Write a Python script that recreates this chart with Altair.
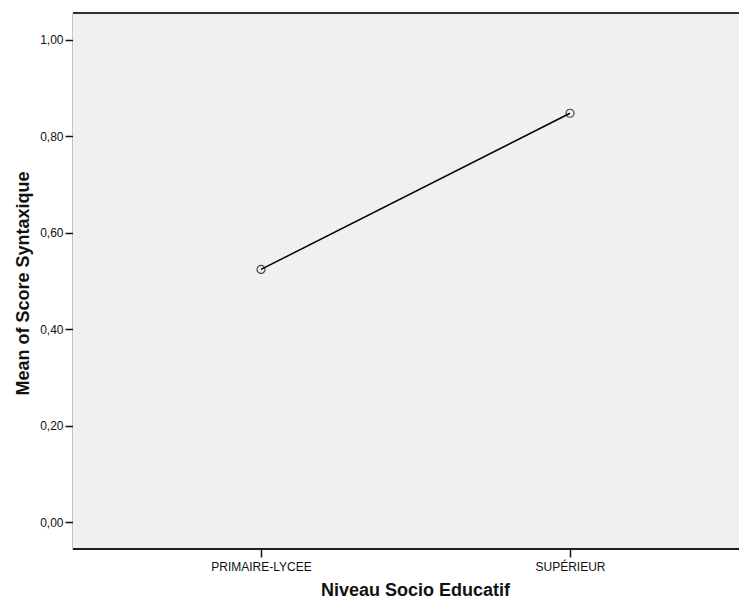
import altair as alt
import pandas as pd

categories = ["PRIMAIRE-LYCEE", "SUPÉRIEUR"]
means = [0.524, 0.848]
y_ticks = [0.0, 0.2, 0.4, 0.6, 0.8, 1.0]

df = pd.DataFrame({"niveau": categories, "score": means})

FONT = "Liberation Sans"
W, H = 666, 536

x_enc = alt.X(
    "niveau:O",
    sort=categories,
    scale=alt.Scale(type="point", domain=categories, range=[188, 497], padding=0),
    axis=alt.Axis(
        title="Niveau Socio Educatif",
        labelAngle=0,
        labelFontSize=12,
        labelColor="#111111",
        labelPadding=4,
        tickSize=8,
        tickColor="#111111",
        tickWidth=1.5,
        domain=False,
        titleFontSize=18,
        titleFontWeight="bold",
        titleColor="#111111",
        titleX=342,
        titleY=46,
        titleBaseline="alphabetic",
        titleAnchor="middle",
        titleAlign="center",
        grid=False,
    ),
)

y_enc = alt.Y(
    "score:Q",
    scale=alt.Scale(domain=[-0.056, 1.056], nice=False, zero=False),
    axis=alt.Axis(
        title="Mean of Score Syntaxique",
        values=y_ticks,
        labelExpr="replace(format(datum.value, '.2f'), '.', ',')",
        labelFontSize=12,
        labelColor="#111111",
        labelPadding=2,
        tickSize=8,
        tickColor="#111111",
        tickWidth=1.5,
        domainColor="#111111",
        domainWidth=1.5,
        titleFontSize=18,
        titleFontWeight="bold",
        titleColor="#111111",
        titleX=-45,
        titleY=270,
        titleAngle=270,
        titleBaseline="alphabetic",
        titleAlign="center",
        grid=False,
    ),
)

bg = alt.Chart(df).mark_rect(color="#f0f0f0").encode(
    x=alt.value(0), x2=alt.value(W), y=alt.value(0), y2=alt.value(H)
)
top_border = alt.Chart(df).mark_rule(color="#222222", strokeWidth=1.5).encode(
    x=alt.value(0), x2=alt.value(W), y=alt.value(0)
)
bottom_border = alt.Chart(df).mark_rule(color="#111111", strokeWidth=1.5).encode(
    x=alt.value(0), x2=alt.value(W), y=alt.value(H)
)

line = alt.Chart(df).mark_line(color="black", strokeWidth=1.5).encode(x=x_enc, y=y_enc)
pts = alt.Chart(df).mark_point(
    shape="circle", filled=False, color="black", size=64, strokeWidth=1.2
).encode(x=x_enc, y=y_enc)

chart = (
    alt.layer(bg, top_border, bottom_border, line, pts)
    .properties(
        width=W,
        height=H,
        autosize=alt.AutoSizeParams(type="none"),
        padding={"left": 65, "top": 5, "right": 0, "bottom": 49},
        background="white",
    )
    .configure_view(stroke="transparent")
    .configure(font=FONT)
)

chart.save("out.html", embed_options={"renderer": "svg", "actions": False})
